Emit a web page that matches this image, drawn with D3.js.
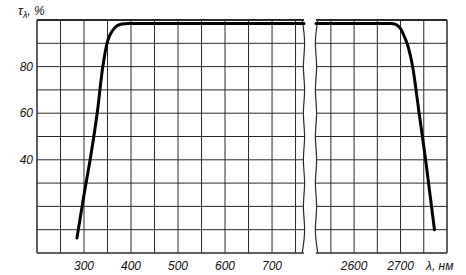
<!DOCTYPE html>
<html>
<head>
<meta charset="utf-8">
<script src="https://cdn.jsdelivr.net/npm/d3@7"></script>
<style>
body{margin:0;background:#fff;}
svg{display:block;}
.grid line{stroke:#2a2a2a;stroke-width:1;}
.lbl{font-family:"Liberation Sans",Arial,sans-serif;font-style:italic;font-size:12px;fill:#111;}
</style>
</head>
<body>
<div id="chart"></div>
<script>
// данные кривой пропускания
var yTicks = [40, 60, 80];
var xTicksL = [300, 400, 500, 600, 700];
var xTicksR = [2600, 2700];
var gridL = [250, 300, 350, 400, 450, 500, 550, 600, 650, 700, 750];
var gridR = [2550, 2600, 2650, 2700, 2750];
var gridY = [10, 20, 30, 40, 50, 60, 70, 80, 90];

var lamL = [285, 300, 313, 328, 340, 349, 355, 361, 366, 373, 381, 395, 410, 768];
var tauL = [6.4, 25, 40, 60, 80, 90, 93.5, 95.5, 96.8, 97.8, 98.3, 98.5, 98.5, 98.5];
var lamR = [2518, 2680, 2688, 2695, 2701, 2708, 2714, 2726, 2740, 2754, 2773];
var tauR = [98.5, 98.5, 98.2, 97.4, 96, 93, 90, 80, 60, 40, 10];

var W = 466, H = 275;
var svg = d3.select("#chart").append("svg").attr("width", W).attr("height", H);

var y = d3.scaleLinear().domain([0, 100]).range([253, 20]);
var xL = d3.scaleLinear().domain([200, 768]).range([37, 304]);
var xR = d3.scaleLinear().domain([2518, 2800]).range([316, 447]);

// сетка
function drawGrid(x, cols, wavyLeft){
	var g = svg.append("g").attr("class","grid");
	var d = x.domain();
	g.selectAll(".v").data(cols).enter().append("line")
		.attr("x1", function(v){return x(v);}).attr("x2", function(v){return x(v);})
		.attr("y1", y(0)).attr("y2", y(100));
	g.selectAll(".h").data(gridY).enter().append("line")
		.attr("x1", x(d[0])).attr("x2", x(d[1]))
		.attr("y1", function(v){return y(v);}).attr("y2", function(v){return y(v);});
	// рамка сверху и снизу
	g.append("line").attr("x1", x(d[0])).attr("x2", x(d[1])).attr("y1", y(100)).attr("y2", y(100)).style("stroke-width", 2);
	g.append("line").attr("x1", x(d[0])).attr("x2", x(d[1])).attr("y1", y(0)).attr("y2", y(0)).style("stroke-width", 1.5);
	// линия разрыва (волнистая)
	var ex = wavyLeft ? x(d[0]) : x(d[1]);
	var pts = d3.range(0, 11).map(function(i){
		var yy = y(100) + (y(0)-y(100))*i/10;
		return [ex + (i%2 ? 1.8 : -1.8)*(wavyLeft ? -1 : 1), yy];
	});
	g.append("path").attr("d", d3.line().curve(d3.curveBasis)(pts))
		.attr("fill","none").attr("stroke","#2a2a2a").attr("stroke-width",1.2);
	// прямая граница
	var sx = wavyLeft ? x(d[1]) : x(d[0]);
	g.append("line").attr("x1", sx).attr("x2", sx).attr("y1", y(0)).attr("y2", y(100)).style("stroke-width", 1.5);
}
drawGrid(xL, gridL, false);
drawGrid(xR, gridR, true);

// кривые
var line = d3.line().curve(d3.curveMonotoneX);
svg.append("path")
	.attr("d", line(lamL.map(function(l,i){return [xL(l), y(tauL[i])];})))
	.attr("fill","none").attr("stroke","#000").attr("stroke-width",3).attr("stroke-linecap","round");
svg.append("path")
	.attr("d", line(lamR.map(function(l,i){return [xR(l), y(tauR[i])];})))
	.attr("fill","none").attr("stroke","#000").attr("stroke-width",3).attr("stroke-linecap","round");

// подписи
svg.selectAll(".yl").data(yTicks).enter().append("text").attr("class","lbl")
	.attr("x", 33).attr("y", function(v){return y(v)+4;})
	.attr("text-anchor","end").text(function(v){return v;});
svg.selectAll(".xl").data(xTicksL).enter().append("text").attr("class","lbl")
	.attr("x", function(v){return xL(v);}).attr("y", 270)
	.attr("text-anchor","middle").text(function(v){return v;});
svg.selectAll(".xr").data(xTicksR).enter().append("text").attr("class","lbl")
	.attr("x", function(v){return xR(v);}).attr("y", 270)
	.attr("text-anchor","middle").text(function(v){return v;});

var t = svg.append("text").attr("class","lbl").attr("x", 18).attr("y", 15);
t.append("tspan").style("font-size","13px").text("τ");
t.append("tspan").attr("dy", 3).style("font-size","9px").text("λ");
t.append("tspan").attr("dy", -3).text(", %");

svg.append("text").attr("class","lbl").attr("x", 426).attr("y", 270).text("λ, нм");
</script>
</body>
</html>
